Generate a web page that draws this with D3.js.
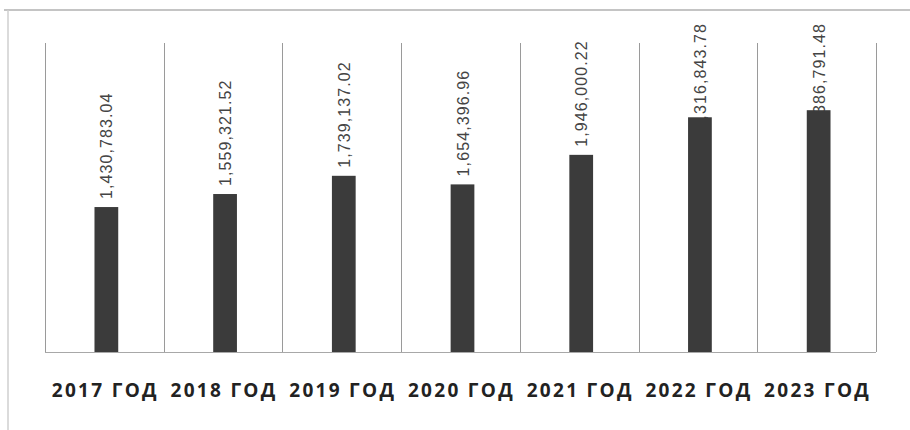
<!DOCTYPE html>
<html><head><meta charset="utf-8">
<script src="https://cdn.jsdelivr.net/npm/d3@7"></script>
<style>body{margin:0;background:#fff}svg{display:block}</style>
</head><body>
<script>
const categories = ["2017 ГОД","2018 ГОД","2019 ГОД","2020 ГОД","2021 ГОД","2022 ГОД","2023 ГОД"];
const values = [1430783.04, 1559321.52, 1739137.02, 1654396.96, 1946000.22, 2316843.78, 2386791.48];
const valueLabels = ["1,430,783.04","1,559,321.52","1,739,137.02","1,654,396.96","1,946,000.22","2,316,843.78","2,386,791.48"];

const W = 910, H = 430;
const svg = d3.select("body").append("svg").attr("width", W).attr("height", H);

const plot = {left: 45, right: 876, top: 43, bottom: 352};
const x = d3.scaleBand().domain(categories).range([plot.left + 2, plot.right + 2]).paddingInner(0.8).paddingOuter(0.4);
const xb = d3.scaleBand().domain(categories).range([plot.left, plot.right]);
const y = d3.scaleLinear().domain([0, 3050000]).range([plot.bottom, plot.top]);

// frame
svg.append("line").attr("x1", 4).attr("x2", W).attr("y1", 10).attr("y2", 10).attr("stroke", "#c4c4c4").attr("stroke-width", 2);
svg.append("line").attr("x1", 8).attr("x2", 8).attr("y1", 10).attr("y2", H).attr("stroke", "#cfcfcf").attr("stroke-width", 1.5);

// vertical gridlines at category boundaries
const bounds = categories.map(c => xb(c)).concat([plot.right]);
svg.append("g").selectAll("line").data(bounds).join("line")
  .attr("x1", d => Math.round(d) + 0.5).attr("x2", d => Math.round(d) + 0.5)
  .attr("y1", plot.top).attr("y2", plot.bottom)
  .attr("stroke", "#9a9a9a").attr("stroke-width", 1);

// baseline
svg.append("line").attr("x1", plot.left).attr("x2", plot.right).attr("y1", plot.bottom + 0.5).attr("y2", plot.bottom + 0.5)
  .attr("stroke", "#a8a8a8").attr("stroke-width", 1);

// value labels (drawn before the bars; labels that would overflow the top are pushed down onto the bar)
const labelTop = 23;
const labels = svg.append("g").selectAll("text").data(values).join("text")
  .attr("font-family", "Liberation Sans, sans-serif")
  .attr("font-size", 16)
  .attr("letter-spacing", 1.1)
  .attr("fill", "#444")
  .text((d, i) => valueLabels[i]);
labels.each(function(d, i) {
  const len = this.getComputedTextLength();
  const cx = x(categories[i]) + x.bandwidth() / 2 + 6;
  let bottom = y(d) - 8;
  if (bottom - len < labelTop) bottom = labelTop + len;
  d3.select(this).attr("transform", `translate(${cx},${bottom}) rotate(-90)`);
});

// bars
svg.append("g").selectAll("rect").data(values).join("rect")
  .attr("x", (d, i) => x(categories[i]))
  .attr("width", x.bandwidth())
  .attr("y", d => y(d))
  .attr("height", d => y(0) - y(d))
  .attr("fill", "#3b3b3b");

// x axis labels
svg.append("g").selectAll("text").data(categories).join("text")
  .attr("x", d => xb(d) + xb.bandwidth() / 2 + 1)
  .attr("y", 397)
  .attr("text-anchor", "middle")
  .attr("font-family", "Open Sans, DejaVu Sans, sans-serif")
  .attr("font-weight", "bold")
  .attr("font-size", 19)
  .attr("letter-spacing", 2.3)
  .attr("fill", "#222")
  .text(d => d);
</script>
</body></html>
